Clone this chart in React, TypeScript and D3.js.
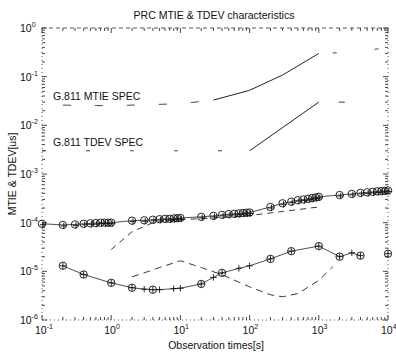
import React from "react";
import * as d3 from "d3";

// ---- data (values in µs, observation times in s) ----
const specMtieTau = [0.2, 1, 10, 30, 100, 300, 1000, 2000, 10000];
const specMtieVal = [0.026, 0.0253, 0.0278, 0.033, 0.0525, 0.108, 0.3, 0.31, 0.39];

const specTdevTau = [0.1, 100, 1000, 10000];
const specTdevVal = [0.003, 0.003, 0.03, 0.03];

const mtieTau = [0.1, 0.2, 0.3, 0.4, 0.5, 0.6, 0.7, 0.8, 0.9, 1, 2, 3, 4, 5, 6, 7, 8, 9, 10, 20, 30, 40, 50, 60, 70, 80, 90, 100, 200, 300, 400, 500, 600, 700, 800, 900, 1000, 2000, 3000, 4000, 5000, 6000, 7000, 8000, 9000, 10000];
const mtieVal = [9.5e-5, 9.0e-5, 9.2e-5, 9.5e-5, 9.7e-5, 9.8e-5, 1.0e-4, 1.0e-4, 1.0e-4, 1.0e-4, 1.1e-4, 1.12e-4, 1.15e-4, 1.18e-4, 1.2e-4, 1.2e-4, 1.22e-4, 1.24e-4, 1.25e-4, 1.32e-4, 1.38e-4, 1.45e-4, 1.5e-4, 1.52e-4, 1.55e-4, 1.58e-4, 1.6e-4, 1.62e-4, 2.1e-4, 2.5e-4, 2.7e-4, 2.9e-4, 3.0e-4, 3.1e-4, 3.2e-4, 3.3e-4, 3.4e-4, 3.7e-4, 3.9e-4, 4.1e-4, 4.2e-4, 4.3e-4, 4.4e-4, 4.45e-4, 4.5e-4, 4.6e-4];

const dashCTau = [1, 2, 4, 10, 30, 100, 300, 1000];
const dashCVal = [2.8e-5, 6.5e-5, 1.0e-4, 1.15e-4, 1.25e-4, 1.4e-4, 1.7e-4, 2.1e-4];

const tdevATau = [0.2, 0.4, 1, 2, 3, 4, 5, 8, 10, 20, 30, 40, 70, 100, 200, 400, 1000, 2000, 3000, 4000];
const tdevAVal = [1.3e-5, 8.6e-6, 5.8e-6, 4.6e-6, 4.3e-6, 4.2e-6, 4.2e-6, 4.4e-6, 4.5e-6, 5.5e-6, 7.5e-6, 9.3e-6, 1.15e-5, 1.3e-5, 1.8e-5, 2.6e-5, 3.3e-5, 2.0e-5, 2.4e-5, 2.1e-5];
const tdevACircleTau = [0.2, 0.4, 1, 2, 4, 20, 40, 200, 400, 1000, 2000, 4000];
const tdevLoneTau = [10000];
const tdevLoneVal = [2.3e-5];

const tdevBTau = [2, 3, 5, 10, 20, 40, 100, 200, 300, 500, 1000, 1600];
const tdevBVal = [7.7e-6, 9.3e-6, 1.2e-5, 1.65e-5, 1.2e-5, 8.5e-6, 4.8e-6, 3.3e-6, 3.0e-6, 3.5e-6, 6.5e-6, 1.25e-5];

const xTickExp = [-1, 0, 1, 2, 3, 4];
const yTickExp = [0, -1, -2, -3, -4, -5, -6];

const W = 396, H = 355;
const L = 42, R = 388, T = 28, B = 320;
const FONT = "'Liberation Sans', Arial, sans-serif";
const INK = "#111";

export default function App() {
  const x = d3.scaleLog().domain([0.1, 1e4]).range([L, R]);
  const y = d3.scaleLog().domain([1e-6, 1]).range([B, T]);
  const line = (ts: number[], vs: number[]) =>
    d3.line<number>().x((_, i) => x(ts[i])).y((_, i) => y(vs[i]))(ts) || "";

  const minorX: number[] = [];
  for (let e = -1; e < 4; e++) for (let m = 2; m <= 9; m++) minorX.push(m * Math.pow(10, e));
  const minorY: number[] = [];
  for (let e = -6; e < 0; e++) for (let m = 2; m <= 9; m++) minorY.push(m * Math.pow(10, e));

  const flatIdx = specMtieTau.filter((t) => t <= 30).length;

  const circle = (cx: number, cy: number, k: string) => (
    <circle key={k} cx={cx} cy={cy} r={3.7} fill="none" stroke={INK} strokeWidth={0.9} />
  );
  const plus = (cx: number, cy: number, k: string) => (
    <path key={k} d={`M${cx - 3.2},${cy}H${cx + 3.2}M${cx},${cy - 3.2}V${cy + 3.2}`} stroke={INK} strokeWidth={0.9} />
  );

  const tdevALookup = (t: number) => tdevAVal[tdevATau.indexOf(t)];

  return (
    <svg width={W} height={H} style={{ position: "absolute", left: 0, top: 0, background: "#fff" }} fontFamily={FONT}>
      {/* axes box */}
      <g stroke="#444" strokeWidth={0.9} fill="none">
        <path d={`M${L},${T}H${R}`} strokeDasharray="4,3" />
        <path d={`M${L},${B}H${R}`} strokeDasharray="1,3" />
        <path d={`M${L},${T}V${B}`} strokeDasharray="1,3" />
        <path d={`M${R},${T}V${B}`} strokeDasharray="1,3" />
      </g>
      {/* ticks */}
      <g stroke="#333" strokeWidth={0.9}>
        {xTickExp.map((e) => {
          const px = x(Math.pow(10, e));
          return (
            <g key={"xt" + e}>
              <line x1={px} x2={px} y1={B} y2={B - 5} />
              <line x1={px} x2={px} y1={T} y2={T + 5} />
            </g>
          );
        })}
        {minorX.map((v, i) => (
          <g key={"xm" + i}>
            <line x1={x(v)} x2={x(v)} y1={B} y2={B - 3} />
            <line x1={x(v)} x2={x(v)} y1={T} y2={T + 3} />
          </g>
        ))}
        {yTickExp.map((e) => {
          const py = y(Math.pow(10, e));
          return (
            <g key={"yt" + e}>
              <line x1={L} x2={L + 5} y1={py} y2={py} />
              <line x1={R} x2={R - 5} y1={py} y2={py} />
            </g>
          );
        })}
        {minorY.map((v, i) => (
          <g key={"ym" + i}>
            <line x1={L} x2={L + 3} y1={y(v)} y2={y(v)} />
            <line x1={R} x2={R - 3} y1={y(v)} y2={y(v)} />
          </g>
        ))}
      </g>

      {/* G.811 MTIE spec */}
      <path d={line(specMtieTau.slice(0, flatIdx), specMtieVal.slice(0, flatIdx))} fill="none" stroke="#333" strokeWidth={0.9} strokeDasharray="8,24" />
      <path d={line(specMtieTau.slice(flatIdx - 1, 7), specMtieVal.slice(flatIdx - 1, 7))} fill="none" stroke="#222" strokeWidth={1} />
      <path d={line(specMtieTau.slice(6), specMtieVal.slice(6))} fill="none" stroke="#333" strokeWidth={0.9} strokeDasharray="0,14,4,38,4,200" />

      {/* G.811 TDEV spec */}
      <path d={line(specTdevTau.slice(0, 2), specTdevVal.slice(0, 2))} fill="none" stroke="#333" strokeWidth={0.9} strokeDasharray="4,40" />
      <path d={line(specTdevTau.slice(1, 3), specTdevVal.slice(1, 3))} fill="none" stroke="#222" strokeWidth={1} />
      <path d={line(specTdevTau.slice(2), specTdevVal.slice(2))} fill="none" stroke="#222" strokeWidth={0.9} strokeDasharray="0,20,6,200" />

      {/* MTIE measured */}
      <path d={line(mtieTau, mtieVal)} fill="none" stroke="#222" strokeWidth={0.8} />
      <path d={line(dashCTau, dashCVal)} fill="none" stroke="#222" strokeWidth={0.9} strokeDasharray="6,5" />
      {mtieTau.map((t, i) => circle(x(t), y(mtieVal[i]), "mc" + i))}
      {mtieTau.map((t, i) => plus(x(t) + 1, y(mtieVal[i]) + 1, "mp" + i))}

      {/* TDEV measured */}
      <path d={line(tdevATau, tdevAVal)} fill="none" stroke="#222" strokeWidth={0.8} />
      {tdevATau.map((t, i) => plus(x(t), y(tdevAVal[i]), "tp" + i))}
      {tdevACircleTau.map((t, i) => circle(x(t), y(tdevALookup(t)), "tc" + i))}
      {tdevLoneTau.map((t, i) => circle(x(t), y(tdevLoneVal[i]), "lc" + i))}
      {tdevLoneTau.map((t, i) => plus(x(t), y(tdevLoneVal[i]), "lp" + i))}
      <path d={line(tdevBTau, tdevBVal)} fill="none" stroke="#222" strokeWidth={0.9} strokeDasharray="7,5" />

      {/* tick labels */}
      <g fill={INK} fontSize={10.5}>
        {xTickExp.map((e) => (
          <text key={"xl" + e} x={x(Math.pow(10, e)) - 7} y={334}>
            10
            <tspan fontSize={7} dy={-5}>{e}</tspan>
          </text>
        ))}
        {yTickExp.map((e) => (
          <text key={"yl" + e} x={20} y={y(Math.pow(10, e)) + 4}>
            10
            <tspan fontSize={7} dy={-5}>{e}</tspan>
          </text>
        ))}
      </g>

      {/* annotations */}
      <text x={53} y={100} fontSize={10.5} fill={INK}>G.811 MTIE SPEC</text>
      <text x={53} y={146} fontSize={10.5} fill={INK}>G.811 TDEV SPEC</text>

      {/* titles */}
      <text x={214} y={19} textAnchor="middle" fontSize={10.5} fill={INK}>PRC MTIE &amp; TDEV characteristics</text>
      <text x={216} y={349} textAnchor="middle" fontSize={10.5} fill={INK}>Observation times[s]</text>
      <text transform={`translate(16,${(T + B) / 2}) rotate(-90)`} textAnchor="middle" fontSize={10.5} fill={INK}>MTIE &amp; TDEV[us]</text>
    </svg>
  );
}
